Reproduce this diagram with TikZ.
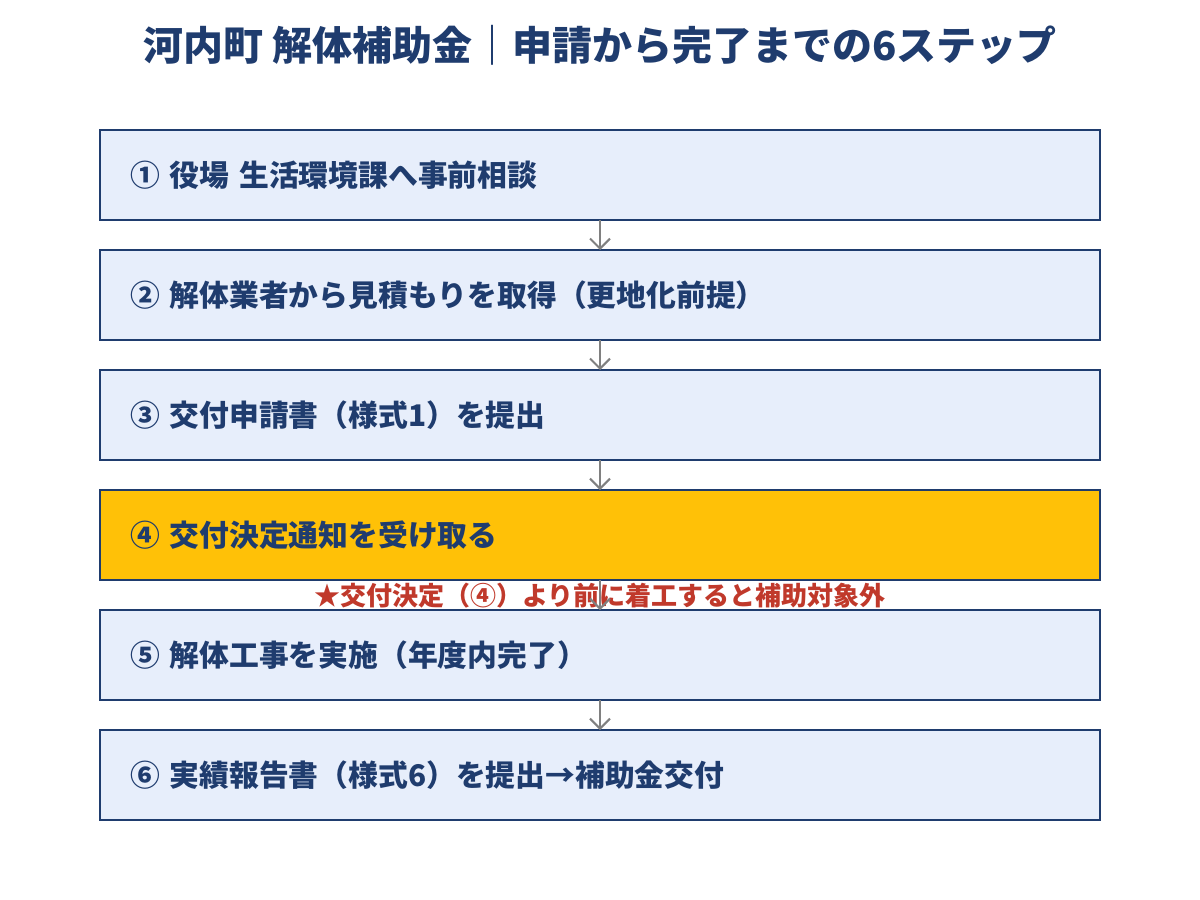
\documentclass[tikz,border=0pt]{standalone}
\usepackage{fontspec}
\setmainfont{Noto Sans CJK JP}
\usepackage{xcolor}
\usetikzlibrary{positioning}
\usetikzlibrary{arrows.meta}
\definecolor{navy}{HTML}{1F3C6E}
\definecolor{boxblue}{HTML}{E7EEFB}
\definecolor{amber}{HTML}{FFC107}
\definecolor{warnred}{HTML}{C0392B}
\definecolor{arrowgray}{HTML}{808080}

\begin{document}
\begin{tikzpicture}[x=1pt, y=1pt,
    stepbox/.style={draw=navy, line width=1pt, fill=boxblue, text=navy,
        font=\bfseries\fontsize{14.9}{17}\selectfont, text width=470pt,
        inner xsep=15pt, inner ysep=0pt, outer sep=0pt,
        minimum height=45pt, align=left},
    flow/.style={arrowgray, line width=1pt, -{Straight Barb[length=5pt, width=10pt]}}]
    % Canvas
    \useasboundingbox (0,0) rectangle (600,-450);

    % Title
    \node[text=navy, font=\bfseries\fontsize{20}{22}\selectfont] (title) at (300,-22.5)
        {河内町 解体補助金｜申請から完了までの6ステップ};

    % Steps
    \node[stepbox] (s1) at (300,-87.5) {① 役場 生活環境課へ事前相談};
    \node[stepbox, below=15pt of s1] (s2) {② 解体業者から見積もりを取得（更地化前提）};
    \node[stepbox, below=15pt of s2] (s3) {③ 交付申請書（様式1）を提出};
    \node[stepbox, fill=amber, below=15pt of s3] (s4) {④ 交付決定通知を受け取る};
    \node[stepbox, below=15pt of s4] (s5) {⑤ 解体工事を実施（年度内完了）};
    \node[stepbox, below=15pt of s5] (s6) {⑥ 実績報告書（様式6）を提出→補助金交付};

    % Warning
    \node[text=warnred, font=\bfseries\fontsize{13}{15}\selectfont] (warn) at (300,-298)
        {★交付決定（④）より前に着工すると補助対象外};

    % Arrows
    \foreach \a/\b in {s1/s2, s2/s3, s3/s4, s4/s5, s5/s6}
        \draw[flow] (\a.south) -- (\b.north);
\end{tikzpicture}
\end{document}
